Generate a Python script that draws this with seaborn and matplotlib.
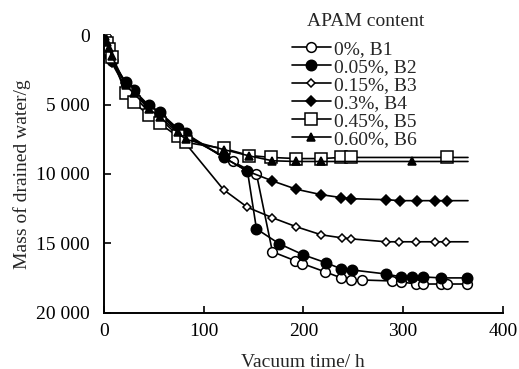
import numpy as np
import pandas as pd
import seaborn as sns
from matplotlib import pyplot as plt
from matplotlib.ticker import FuncFormatter

# data: vacuum time (h) and drained water (g)
t_early = [0, 1, 3, 5, 8, 22, 30, 45, 56, 74, 82]

b1_t = t_early + [120, 129, 153, 169, 192, 199, 222, 238, 248, 259, 289, 298, 313, 320, 338, 344, 364]
b1_y = [0, 400, 900, 1400, 1900, 3500, 4100, 5200, 5700, 6900, 7300,
        8700, 9100, 10000, 15600, 16250, 16450, 17050, 17480, 17630, 17630,
        17700, 17770, 17920, 17920, 17920, 17920, 17920]

b2_t = t_early + [120, 144, 153, 176, 200, 223, 238, 249, 283, 298, 309, 320, 338, 364]
b2_y = [0, 300, 800, 1300, 1800, 3400, 3970, 5060, 5560, 6720, 7080,
        8800, 9800, 13950, 15030, 15820, 16400, 16830, 16910, 17200, 17410,
        17410, 17410, 17480, 17480]

b3_t = t_early + [120, 144, 169, 193, 218, 239, 248, 283, 296, 313, 332, 343, 365]
b3_y = [0, 500, 1000, 1500, 2000, 3800, 4400, 5500, 6000, 7200, 7800,
        11130, 12400, 13150, 13800, 14380, 14600, 14670, 14880, 14880, 14880,
        14880, 14880, 14880]

b4_t = t_early + [120, 144, 169, 193, 218, 238, 248, 283, 297, 314, 332, 344, 365]
b4_y = [0, 350, 850, 1350, 1850, 3450, 4050, 5100, 5600, 6800, 7150,
        8800, 9800, 10500, 11100, 11490, 11700, 11780, 11850, 11920, 11920,
        11920, 11920, 11920]

b5_t = t_early + [120, 146, 168, 193, 218, 238, 248, 344, 365]
b5_y = [0, 200, 600, 1000, 1600, 4200, 4840, 5780, 6360, 7300, 7730,
        8160, 8670, 8810, 8890, 8890, 8810, 8810, 8810, 8810]

b6_t = t_early + [120, 146, 169, 193, 218, 309, 365]
b6_y = [0, 100, 500, 900, 1500, 3600, 4200, 5300, 5900, 7000, 7500,
        8240, 8700, 9050, 9100, 9100, 9100, 9100]

labels = ['0%, B1', '0.05%, B2', '0.15%, B3', '0.3%, B4', '0.45%, B5', '0.60%, B6']
series = [(b1_t, b1_y), (b2_t, b2_y), (b3_t, b3_y), (b4_t, b4_y), (b5_t, b5_y), (b6_t, b6_y)]

# marker, face colour, size, marker on last point?
styles = [('o', 'white', 7, True),
          ('o', 'black', 7.5, True),
          ('D', 'white', 4.5, False),
          ('D', 'black', 5, False),
          ('s', 'white', 8, False),
          ('^', 'black', 5.5, False)]

sns.set_style('ticks')
plt.rcParams['font.family'] = ['Liberation Serif', 'DejaVu Serif']
plt.rcParams['font.size'] = 14

fig = plt.figure(figsize=(5.19, 3.69), dpi=100)
ax = fig.add_axes([0.200, 0.152, 0.769, 0.753])

for (t, y), lab, (m, fc, ms, last) in zip(series, labels, styles):
    df = pd.DataFrame({'t': t, 'y': y})
    n = len(t)
    mev = list(range(n)) if last else list(range(n - 1))
    sns.lineplot(data=df, x='t', y='y', ax=ax, color='black', lw=1.2,
                 marker=m, markersize=ms, markerfacecolor=fc,
                 markeredgecolor='black', markeredgewidth=1.1,
                 markevery=mev, estimator=None, sort=False, label=lab)

ax.set_xlim(0, 400)
ax.set_ylim(20000, 0)
ax.set_xticks([0, 100, 200, 300, 400])
ax.set_yticks([0, 5000, 10000, 15000, 20000])
ax.yaxis.set_major_formatter(FuncFormatter(lambda v, p: f'{int(v):,}'.replace(',', ' ')))
ax.tick_params(direction='in', length=5, width=1.2, labelsize=14, colors='black')
ax.tick_params(axis='y', pad=10)
ax.tick_params(axis='x', pad=7)
for s in ['top', 'right']:
    ax.spines[s].set_visible(False)
for s in ['left', 'bottom']:
    ax.spines[s].set_linewidth(1.4)
    ax.spines[s].set_color('black')

ax.set_xlabel('Vacuum time/ h', fontsize=14, labelpad=10)
ax.set_ylabel('Mass of drained water/g', fontsize=14, labelpad=4)

# legend title as its own text, the original sits right of centre
fig.text(307 / 519, 1 - 21 / 369, 'APAM content', fontsize=14, ha='left', va='center')
leg = ax.legend(loc='upper left', bbox_to_anchor=(0.555, 0.902),
                bbox_transform=fig.transFigure, frameon=False, fontsize=14,
                handlelength=2.0, handletextpad=0.15,
                labelspacing=0.02, borderpad=0.2, borderaxespad=0)

fig.savefig('out.png', dpi=100)
